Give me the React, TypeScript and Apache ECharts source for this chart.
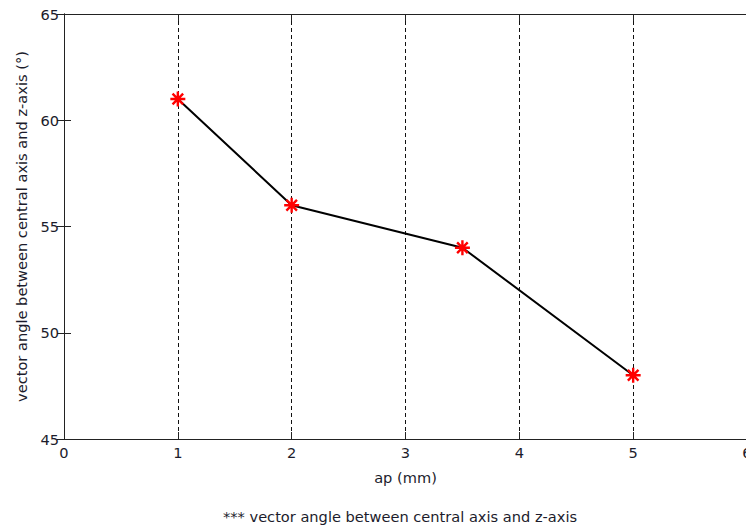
import React, { useEffect, useRef } from "react";
import * as echarts from "echarts";

const apValues = [1, 2, 3.5, 5];
const angleValues = [61, 56, 54, 48];
const xTicks = [0, 1, 2, 3, 4, 5, 6];
const yTicks = [45, 50, 55, 60, 65];
const xTitle = "ap (mm)";
const yTitle = "vector angle between central axis and z-axis (°)";
const caption = "*** vector angle between central axis and z-axis";

const FONT = "DejaVu Sans";
const TXT = "#1c1c2c";
const FS = 14.6;

const starPath =
  "path://M0,-10L0,10M-10,0L10,0M-7.07,-7.07L7.07,7.07M-7.07,7.07L7.07,-7.07";

export default function App() {
  const ref = useRef<HTMLDivElement>(null);
  useEffect(() => {
    if (!ref.current) return;
    const chart = echarts.init(ref.current, undefined, { renderer: "svg" });
    const data = apValues.map((x, i) => [x, angleValues[i]]);
    chart.setOption({
      animation: false,
      backgroundColor: "#ffffff",
      grid: {
        left: 64,
        top: 14,
        width: 683,
        height: 425,
        containLabel: false,
        outerBoundsMode: "none",
      },
      xAxis: [
        {
          type: "value",
          min: xTicks[0],
          max: xTicks[xTicks.length - 1],
          interval: 1,
          name: xTitle,
          nameLocation: "middle",
          nameGap: 31,
          nameTextStyle: { fontFamily: FONT, fontSize: FS, color: TXT },
          axisLine: { show: true, lineStyle: { color: "#222", width: 1 } },
          axisTick: { show: true, inside: true, length: 7, lineStyle: { color: "#222" } },
          axisLabel: { fontFamily: FONT, fontSize: FS, color: TXT, margin: 6 },
          splitLine: { show: true, lineStyle: { color: "#111", type: [4, 3], width: 1 } },
        },
        {
          type: "value",
          position: "top",
          min: xTicks[0],
          max: xTicks[xTicks.length - 1],
          interval: 1,
          axisLine: { show: true, lineStyle: { color: "#222", width: 1 } },
          axisTick: { show: true, inside: true, length: 7, lineStyle: { color: "#222" } },
          axisLabel: { show: false },
          splitLine: { show: false },
        },
      ],
      yAxis: [
        {
          type: "value",
          min: yTicks[0],
          max: yTicks[yTicks.length - 1],
          interval: 5,
          name: yTitle,
          nameLocation: "middle",
          nameGap: 35,
          nameTextStyle: { fontFamily: FONT, fontSize: FS, color: TXT },
          axisLine: { show: true, lineStyle: { color: "#222", width: 1 } },
          axisTick: { show: true, inside: true, length: 7, lineStyle: { color: "#222" } },
          axisLabel: { fontFamily: FONT, fontSize: FS, color: TXT, margin: 5 },
          splitLine: { show: false },
        },
        {
          type: "value",
          position: "right",
          min: yTicks[0],
          max: yTicks[yTicks.length - 1],
          interval: 5,
          axisLine: { show: true, lineStyle: { color: "#222", width: 1 } },
          axisTick: { show: true, inside: true, length: 7, lineStyle: { color: "#222" } },
          axisLabel: { show: false },
          splitLine: { show: false },
        },
      ],
      series: [
        {
          type: "line",
          data,
          xAxisIndex: 0,
          yAxisIndex: 0,
          lineStyle: { color: "#000", width: 2 },
          symbol: starPath,
          symbolSize: 15,
          itemStyle: { color: "#ff0000", borderColor: "#ff0000", borderWidth: 2.4 },
          z: 3,
        },
      ],
      graphic: [
        {
          type: "text",
          x: 400,
          y: 516,
          style: {
            text: caption,
            fontFamily: FONT,
            fontSize: FS,
            fill: TXT,
            textAlign: "center",
            textVerticalAlign: "middle",
          },
        },
      ],
    });
    return () => chart.dispose();
  }, []);
  return (
    <div
      ref={ref}
      style={{ position: "fixed", left: 0, top: 0, width: 746, height: 529 }}
    />
  );
}
